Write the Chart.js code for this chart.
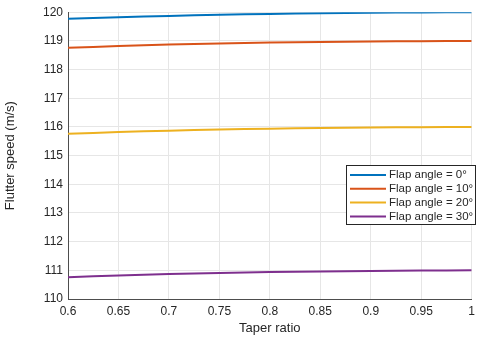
<!DOCTYPE html>
<html>
<head>
<meta charset="utf-8">
<script src="https://cdn.jsdelivr.net/npm/chart.js@4"></script>
<style>
  html, body { margin: 0; padding: 0; background: #fff; }
  #wrap { width: 480px; height: 340px; }
</style>
</head>
<body>
<div id="wrap"><canvas id="flutterChart" width="480" height="340"></canvas></div>
<script>
const taper = [0.6, 0.65, 0.7, 0.75, 0.8, 0.85, 0.9, 0.95, 1];
const flap0 = [119.77, 119.82, 119.87, 119.91, 119.94, 119.96, 119.98, 119.99, 120.0];
const flap10 = [118.76, 118.82, 118.87, 118.91, 118.94, 118.96, 118.98, 118.99, 119.0];
const flap20 = [115.76, 115.82, 115.87, 115.91, 115.94, 115.96, 115.98, 115.99, 116.0];
const flap30 = [110.76, 110.82, 110.87, 110.91, 110.94, 110.96, 110.98, 110.99, 111.0];
const labels = ["Flap angle = 0°", "Flap angle = 10°", "Flap angle = 20°", "Flap angle = 30°"];
const colors = ["#0072BD", "#D95319", "#EDB120", "#7E2F8E"];

const FONT = "'Liberation Sans', Arial, sans-serif";

const series = [flap0, flap10, flap20, flap30];
const datasets = series.map((vals, i) => ({
  label: labels[i],
  data: taper.map((t, j) => ({ x: t, y: vals[j] })),
  borderColor: colors[i],
  backgroundColor: colors[i],
  borderWidth: 2,
  pointRadius: 0,
  tension: 0.4,
  fill: false
}));

// legend box drawn inside plot, like MATLAB "best" location
const boxLegend = {
  id: "boxLegend",
  afterDraw(chart) {
    const ctx = chart.ctx;
    const x0 = 346, y0 = 165, w = 129, h = 59;
    ctx.save();
    ctx.fillStyle = "#fff";
    ctx.fillRect(x0, y0, w, h);
    ctx.strokeStyle = "#262626";
    ctx.lineWidth = 1;
    ctx.strokeRect(x0 + 0.5, y0 + 0.5, w, h);
    ctx.font = "11.5px " + FONT;
    ctx.textBaseline = "middle";
    chart.data.datasets.forEach((ds, i) => {
      const yy = y0 + 10 + i * 13.8;
      ctx.strokeStyle = ds.borderColor;
      ctx.lineWidth = 2;
      ctx.beginPath();
      ctx.moveTo(x0 + 4, yy);
      ctx.lineTo(x0 + 40, yy);
      ctx.stroke();
      ctx.fillStyle = "#262626";
      ctx.fillText(ds.label, x0 + 43, yy);
    });
    ctx.restore();
  }
};

new Chart(document.getElementById("flutterChart"), {
  type: "line",
  data: { datasets: datasets },
  options: {
    responsive: false,
    animation: false,
    layout: { padding: { top: 11, right: 8, left: 0, bottom: 0 } },
    plugins: {
      legend: { display: false },
      tooltip: { enabled: false }
    },
    scales: {
      x: {
        type: "linear",
        min: 0.6,
        max: 1,
        afterFit(s) { s.height = 41; },
        ticks: {
          stepSize: 0.05,
          color: "#262626",
          font: { family: FONT, size: 12 },
          padding: 5,
          maxRotation: 0,
          callback: v => String(Number(v.toFixed(2)))
        },
        grid: { color: "#e6e6e6", drawTicks: false },
        border: { color: "#4d4d4d", width: 1 },
        title: {
          display: true,
          text: "Taper ratio",
          color: "#262626",
          font: { family: FONT, size: 13 },
          padding: { top: 0 }
        }
      },
      y: {
        min: 110,
        max: 120,
        afterFit(s) { s.width = 68; },
        ticks: {
          stepSize: 1,
          color: "#262626",
          font: { family: FONT, size: 12 },
          padding: 5
        },
        grid: { color: "#e6e6e6", drawTicks: false },
        border: { color: "#4d4d4d", width: 1 },
        title: {
          display: true,
          text: "Flutter speed (m/s)",
          color: "#262626",
          font: { family: FONT, size: 13 },
          padding: { top: 3, bottom: 4 }
        }
      }
    }
  },
  plugins: [boxLegend]
});
</script>
</body>
</html>
